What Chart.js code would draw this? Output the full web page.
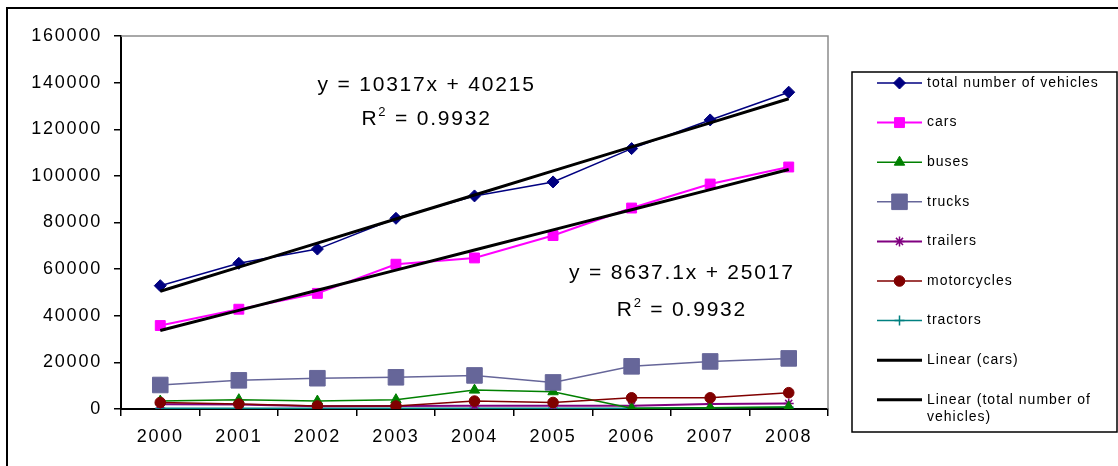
<!DOCTYPE html>
<html>
<head>
<meta charset="utf-8">
<script src="https://cdn.jsdelivr.net/npm/chart.js"></script>
<style>
  html, body { margin: 0; padding: 0; background: #fff; overflow: hidden; }
  #wrap { width: 1118px; height: 466px; position: relative; }
</style>
</head>
<body>
<div id="wrap"><canvas id="c" width="1118" height="466"></canvas></div>
<script>
// Registered vehicles per year
const years = ['2000', '2001', '2002', '2003', '2004', '2005', '2006', '2007', '2008'];
const totalVehicles = [52900, 62500, 68600, 81800, 91400, 97400, 111700, 124000, 135900];
const cars          = [35800, 42800, 49600, 62100, 64800, 74400, 86200, 96500, 103800];
const buses         = [3400, 4000, 3400, 4000, 8100, 7400, 300, 500, 900];
const trucks        = [10300, 12300, 13200, 13600, 14400, 11400, 18300, 20400, 21700];
const trailers      = [2000, 1900, 1200, 1300, 1400, 1400, 1400, 2100, 2400];
const motorcycles   = [2800, 2100, 1300, 1300, 3400, 2800, 4800, 4800, 7000];
const tractors      = [300, 300, 300, 300, 300, 300, 300, 500, 800];
const yTicks = [0, 20000, 40000, 60000, 80000, 100000, 120000, 140000, 160000];

// Linear trend lines (x = 1 for the first year)
const fitTotal = { slope: 10317, intercept: 40215, r2: '0.9932' };
const fitCars  = { slope: 8637.1, intercept: 25017, r2: '0.9932' };
const trendTotal = years.map((_, i) => fitTotal.slope * (i + 1) + fitTotal.intercept);
const trendCars  = years.map((_, i) => fitCars.slope * (i + 1) + fitCars.intercept);

const FONT = '"Liberation Sans", Arial, Helvetica, sans-serif';
Chart.defaults.font.family = FONT;
Chart.defaults.color = '#000';

function series(label, data, color, style, radius, width, order) {
  return {
    label, data, order,
    borderColor: color, borderWidth: width,
    pointStyle: style, pointRadius: radius,
    pointBackgroundColor: color, pointBorderColor: color,
    pointBorderWidth: (style === 'star' || style === 'cross') ? 1.5 : 1,
    tension: 0, fill: false
  };
}
function trend(label, data) {
  return { label, data, order: 0, borderColor: '#000', borderWidth: 3,
           pointRadius: 0, tension: 0, fill: false, isTrend: true };
}

const datasets = [
  series('total number of vehicles', totalVehicles, '#000080', 'rectRot', 6, 1.5, 2),
  series('cars', cars, '#FF00FF', 'rect', 7, 2, 3),
  series('buses', buses, '#008000', 'triangle', 6, 1.5, 6),
  series('trucks', trucks, '#666699', 'rect', 11, 1.5, 4),
  series('trailers', trailers, '#800080', 'star', 5, 2, 7),
  series('motorcycles', motorcycles, '#800000', 'circle', 5.3, 1.5, 5),
  series('tractors', tractors, '#008080', 'cross', 5, 1.5, 8),
  trend('Linear (cars)', trendCars),
  trend('Linear (total number of vehicles)', trendTotal)
];

function drawMarker(ctx, ds, x, y) {
  if (!ds.pointRadius) return;
  ctx.save();
  ctx.fillStyle = ds.pointBackgroundColor;
  ctx.strokeStyle = ds.pointBorderColor;
  ctx.lineWidth = ds.pointBorderWidth;
  Chart.helpers.drawPoint(ctx, {
    pointStyle: ds.pointStyle, radius: ds.pointRadius,
    borderWidth: ds.pointBorderWidth, rotation: 0
  }, x, y);
  ctx.restore();
}

function wrapText(ctx, text, maxW) {
  const words = text.split(' ');
  const lines = [];
  let cur = '';
  for (const w of words) {
    const t = cur ? cur + ' ' + w : w;
    if (cur && ctx.measureText(t).width > maxW) { lines.push(cur); cur = w; }
    else cur = t;
  }
  if (cur) lines.push(cur);
  return lines;
}

// Equation label: "y = ax + b" over "R² = r"
function drawEquation(ctx, fit, cx, y1, y2) {
  ctx.save();
  ctx.fillStyle = '#000';
  ctx.letterSpacing = '1.8px';
  ctx.textBaseline = 'middle';
  ctx.textAlign = 'center';
  ctx.font = '21px ' + FONT;
  ctx.fillText('y = ' + fit.slope + 'x + ' + fit.intercept, cx, y1);
  // second line with superscript
  const big = '21px ' + FONT, small = '13px ' + FONT;
  ctx.font = big;  const wR = ctx.measureText('R').width;
  const rest = ' = ' + fit.r2; const wRest = ctx.measureText(rest).width;
  ctx.font = small; const w2 = ctx.measureText('2').width;
  const total = wR + w2 + wRest;
  let x = cx - total / 2;
  ctx.textAlign = 'left';
  ctx.font = big;  ctx.fillText('R', x, y2); x += wR;
  ctx.font = small; ctx.fillText('2', x, y2 - 7); x += w2;
  ctx.font = big;  ctx.fillText(rest, x, y2);
  ctx.restore();
}

const decor = {
  id: 'decor',
  beforeDraw(chart) {
    const ctx = chart.ctx;
    ctx.save();
    ctx.fillStyle = '#fff';
    ctx.fillRect(0, 0, chart.width, chart.height);
    // outer chart frame
    ctx.strokeStyle = '#000';
    ctx.lineWidth = 2;
    ctx.strokeRect(7, 8, chart.width + 20, chart.height + 20);
    ctx.restore();
    ctx.letterSpacing = '1.8px';
  },
  beforeDatasetsDraw(chart) {
    const ctx = chart.ctx, a = chart.chartArea;
    ctx.save();
    ctx.strokeStyle = '#8c8c8c';
    ctx.lineWidth = 1.5;
    ctx.beginPath();
    ctx.moveTo(a.left, a.top);
    ctx.lineTo(a.right, a.top);
    ctx.lineTo(a.right, a.bottom);
    ctx.stroke();
    ctx.restore();
  },
  afterDraw(chart) {
    const ctx = chart.ctx;
    ctx.letterSpacing = '0px';
    const xs = chart.scales.x, ys = chart.scales.y;

    drawEquation(ctx, fitTotal, xs.getPixelForValue(3.39), ys.getPixelForValue(139000), ys.getPixelForValue(124400));
    drawEquation(ctx, fitCars, xs.getPixelForValue(6.64), ys.getPixelForValue(58300), ys.getPixelForValue(42500));

    // legend box
    const box = { left: 852, top: 72, right: 1117, bottom: 432 };
    ctx.save();
    ctx.strokeStyle = '#000';
    ctx.lineWidth = 1.5;
    ctx.strokeRect(box.left, box.top, box.right - box.left, box.bottom - box.top);
    const sx0 = 877, sx1 = 922, tx = 927;
    const firstY = 83, step = 39.6;
    ctx.font = '14px ' + FONT;
    ctx.letterSpacing = '1px';
    ctx.textBaseline = 'middle';
    ctx.textAlign = 'left';
    chart.data.datasets.forEach((ds, i) => {
      const y = firstY + i * step;
      ctx.strokeStyle = ds.borderColor;
      ctx.lineWidth = ds.borderWidth;
      ctx.beginPath();
      ctx.moveTo(sx0, y);
      ctx.lineTo(sx1, y);
      ctx.stroke();
      drawMarker(ctx, ds, (sx0 + sx1) / 2, y);
      ctx.fillStyle = '#000';
      const lines = wrapText(ctx, ds.label, box.right - tx - 4);
      lines.forEach((ln, k) => ctx.fillText(ln, tx, y + k * 17));
    });
    ctx.restore();
  }
};

new Chart(document.getElementById('c'), {
  type: 'line',
  data: { labels: years, datasets },
  options: {
    responsive: false,
    animation: false,
    events: [],
    layout: { padding: { left: 0, top: 36, right: 290, bottom: 0 } },
    plugins: { legend: { display: false }, tooltip: { enabled: false } },
    scales: {
      x: {
        offset: true,
        grid: { offset: true, drawOnChartArea: false, drawTicks: true, tickLength: 7, color: '#000', lineWidth: 1.5 },
        border: { color: '#000', width: 2 },
        ticks: { font: { size: 18 }, color: '#000', padding: 10, maxRotation: 0, autoSkip: false },
        afterFit: s => { s.height = 57; }
      },
      y: {
        min: 0, max: 160000,
        afterBuildTicks: s => { s.ticks = yTicks.map(v => ({ value: v })); },
        grid: { drawOnChartArea: false, drawTicks: true, tickLength: 7, color: '#000', lineWidth: 1.5 },
        border: { color: '#000', width: 2 },
        ticks: { font: { size: 18 }, color: '#000', padding: 12, callback: v => String(v) },
        afterFit: s => { s.width = 121; }
      }
    }
  },
  plugins: [decor]
});
</script>
</body>
</html>
